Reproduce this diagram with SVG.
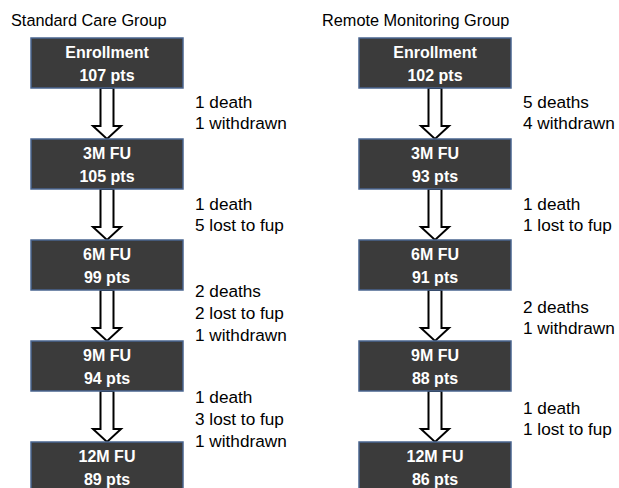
<svg xmlns="http://www.w3.org/2000/svg" width="619" height="488" viewBox="0 0 619 488">
<style>
text{font-family:"Liberation Sans",Arial,sans-serif;font-size:16px}
.title{fill:#000;font-size:16.3px}
.box rect{fill:#3b3b3b;stroke:#4a6590;stroke-width:1.5}
.box text{fill:#fff;font-weight:bold;text-anchor:middle}
.lbl text{fill:#000;font-size:17.2px}
.arrow{fill:#fff;stroke:#000;stroke-width:2;stroke-linejoin:miter}
</style>
<rect width="619" height="488" fill="#fff"/>
<text class="title" x="11" y="26">Standard Care Group</text>
<text class="title" x="322" y="26">Remote Monitoring Group</text>

<g id="connectors">
<polygon class="arrow" points="100.5,88 113.5,88 113.5,126 121,126 107,139 93,126 100.5,126"/>
<polygon class="arrow" points="100.5,189 113.5,189 113.5,227 121,227 107,240 93,227 100.5,227"/>
<polygon class="arrow" points="100.5,290 113.5,290 113.5,328 121,328 107,341 93,328 100.5,328"/>
<polygon class="arrow" points="100.5,391 113.5,391 113.5,429 121,429 107,442 93,429 100.5,429"/>
<polygon class="arrow" points="428.5,88 441.5,88 441.5,126 449,126 435,139 421,126 428.5,126"/>
<polygon class="arrow" points="428.5,189 441.5,189 441.5,227 449,227 435,240 421,227 428.5,227"/>
<polygon class="arrow" points="428.5,290 441.5,290 441.5,328 449,328 435,341 421,328 428.5,328"/>
<polygon class="arrow" points="428.5,391 441.5,391 441.5,429 449,429 435,442 421,429 428.5,429"/>
</g>

<g id="sc-enroll" class="box"><rect x="31" y="38" width="152" height="50"/><text x="107" y="58">Enrollment</text><text x="107" y="81">107 pts</text></g>
<g id="sc-3m" class="box"><rect x="31" y="139" width="152" height="50"/><text x="107" y="159">3M FU</text><text x="107" y="182">105 pts</text></g>
<g id="sc-6m" class="box"><rect x="31" y="240" width="152" height="50"/><text x="107" y="260">6M FU</text><text x="107" y="283">99 pts</text></g>
<g id="sc-9m" class="box"><rect x="31" y="341" width="152" height="50"/><text x="107" y="361">9M FU</text><text x="107" y="384">94 pts</text></g>
<g id="sc-12m" class="box"><rect x="31" y="442" width="152" height="50"/><text x="107" y="462">12M FU</text><text x="107" y="485">89 pts</text></g>

<g id="rm-enroll" class="box"><rect x="359" y="38" width="152" height="50"/><text x="435" y="58">Enrollment</text><text x="435" y="81">102 pts</text></g>
<g id="rm-3m" class="box"><rect x="359" y="139" width="152" height="50"/><text x="435" y="159">3M FU</text><text x="435" y="182">93 pts</text></g>
<g id="rm-6m" class="box"><rect x="359" y="240" width="152" height="50"/><text x="435" y="260">6M FU</text><text x="435" y="283">91 pts</text></g>
<g id="rm-9m" class="box"><rect x="359" y="341" width="152" height="50"/><text x="435" y="361">9M FU</text><text x="435" y="384">88 pts</text></g>
<g id="rm-12m" class="box"><rect x="359" y="442" width="152" height="50"/><text x="435" y="462">12M FU</text><text x="435" y="485">86 pts</text></g>

<g id="sc-labels" class="lbl">
<text x="195" y="108">1 death</text><text x="195" y="129">1 withdrawn</text>
<text x="195" y="210">1 death</text><text x="195" y="231">5 lost to fup</text>
<text x="195" y="297">2 deaths</text><text x="195" y="319">2 lost to fup</text><text x="195" y="341">1 withdrawn</text>
<text x="195" y="403">1 death</text><text x="195" y="425">3 lost to fup</text><text x="195" y="447">1 withdrawn</text>
</g>
<g id="rm-labels" class="lbl">
<text x="523" y="108">5 deaths</text><text x="523" y="129">4 withdrawn</text>
<text x="523" y="210">1 death</text><text x="523" y="231">1 lost to fup</text>
<text x="523" y="313">2 deaths</text><text x="523" y="334">1 withdrawn</text>
<text x="523" y="414">1 death</text><text x="523" y="435">1 lost to fup</text>
</g>
</svg>
